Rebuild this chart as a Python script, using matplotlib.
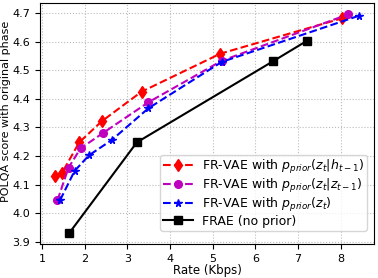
import matplotlib
matplotlib.use("Agg")
import matplotlib.pyplot as plt

red_x = [1.30, 1.46, 1.87, 2.40, 3.33, 5.18, 8.02]
red_y = [4.131, 4.140, 4.248, 4.322, 4.425, 4.558, 4.681]
mag_x = [1.36, 1.62, 1.90, 2.43, 3.49, 5.21, 8.17]
mag_y = [4.046, 4.160, 4.227, 4.281, 4.388, 4.533, 4.695]
blue_x = [1.42, 1.76, 2.10, 2.63, 3.49, 5.21, 8.42]
blue_y = [4.046, 4.148, 4.203, 4.256, 4.367, 4.529, 4.690]
blk_x = [1.63, 3.22, 6.42, 7.21]
blk_y = [3.930, 4.248, 4.532, 4.603]

labels = [r"FR-VAE with $p_{prior}(z_t|h_{t-1})$",
          r"FR-VAE with $p_{prior}(z_t|z_{t-1})$",
          r"FR-VAE with $p_{prior}(z_t)$",
          "FRAE (no prior)"]

plt.rcParams['font.size'] = 8
fig = plt.figure(figsize=(3.78, 2.78), dpi=100)
ax = fig.add_axes([0.1058, 0.1223, 0.8836, 0.867])
ax.plot(red_x, red_y, 'r--d', markersize=6, label=labels[0])
ax.plot(mag_x, mag_y, 'm--o', markersize=5.5, label=labels[1])
ax.plot(blue_x, blue_y, 'b--*', markersize=5.5, label=labels[2])
ax.plot(blk_x, blk_y, 'k-s', markersize=5.5, label=labels[3])
ax.set_xlim(0.95, 8.78)
ax.set_ylim(3.893, 4.735)
ax.set_xticks(range(1, 9))
ax.set_yticks([3.9, 4.0, 4.1, 4.2, 4.3, 4.4, 4.5, 4.6, 4.7])
ax.grid(True, linestyle=':', color='#bbbbbb')
ax.set_xlabel("Rate (Kbps)", fontsize=8.5)
ax.xaxis.set_label_coords(0.5, -0.083)
ax.set_ylabel("POLQA score with original phase", fontsize=8)
ax.yaxis.set_label_coords(-0.087, 0.552)
ax.legend(loc='lower right', bbox_to_anchor=(0.979, 0.054), borderaxespad=0,
          fontsize=9, handlelength=2.4, handletextpad=0.7,
          labelspacing=0.08, borderpad=0.25)
fig.savefig("out.png", dpi=100)
